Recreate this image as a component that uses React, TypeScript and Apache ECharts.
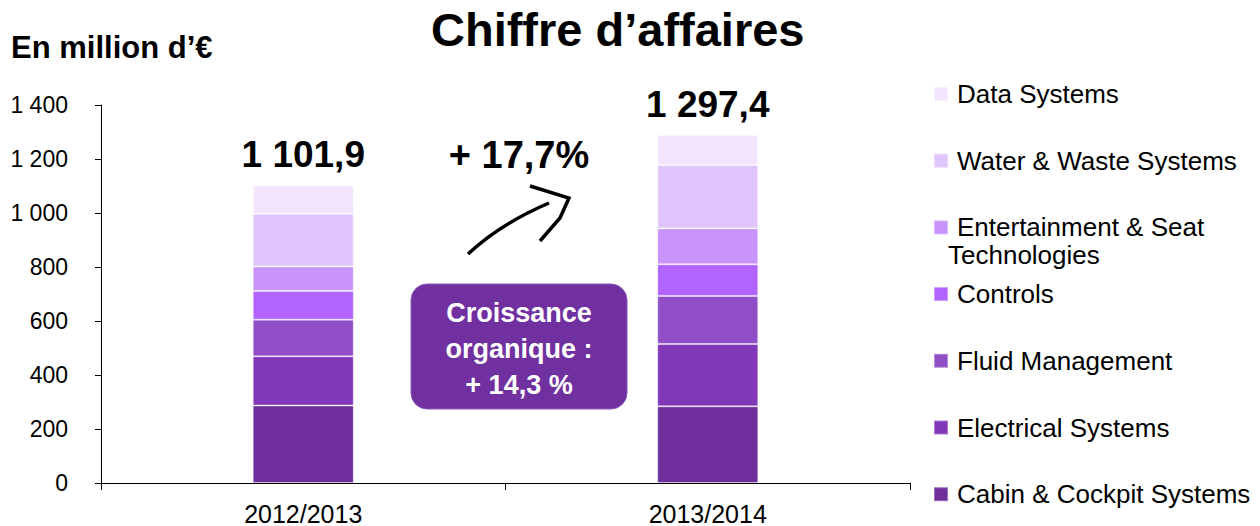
import React, { useEffect, useRef } from "react";
import * as echarts from "echarts";

const categories = ["2012/2013", "2013/2014"];
const cabinCockpit = [287, 284];
const electrical = [182, 231];
const fluid = [136, 178];
const controls = [106, 117];
const entertainment = [91, 133];
const waterWaste = [195, 235];
const dataSystems = [105, 111];
const totals = [1101.9, 1297.4];
const yTicks = { min: 0, max: 1400, interval: 200 };

const seriesNames = [
  "Cabin & Cockpit Systems",
  "Electrical Systems",
  "Fluid Management",
  "Controls",
  "Entertainment & Seat Technologies",
  "Water & Waste Systems",
  "Data Systems",
];
const seriesValues = [cabinCockpit, electrical, fluid, controls, entertainment, waterWaste, dataSystems];
const colors = ["#6E2F9C", "#8037B8", "#914FC7", "#B164FE", "#C993FC", "#E0C5FC", "#F3E5FD"];

const growthText = "+ 17,7%";
const organicText = "Croissance\norganique :\n+ 14,3 %";

const FONT = "'Liberation Sans', Arial, sans-serif";

function frNum(v: number, decimals = 0): string {
  const fixed = v.toFixed(decimals);
  const [intPart, dec] = fixed.split(".");
  const grouped = intPart.replace(/\B(?=(\d{3})+(?!\d))/g, " ");
  return dec ? grouped + "," + dec : grouped;
}

export default function App() {
  const ref = useRef<HTMLDivElement>(null);
  useEffect(() => {
    if (!ref.current) return;
    document.body.style.margin = "0";
    const chart = echarts.init(ref.current, null, { renderer: "svg" });
    const series = seriesNames.map((name, i) => ({
      name,
      type: "bar",
      stack: "total",
      barWidth: 101,
      data: seriesValues[i],
      itemStyle: { color: colors[i], borderColor: "rgba(255,255,255,0.35)", borderWidth: 1 },
      label:
        i === seriesNames.length - 1
          ? {
              show: true,
              position: "top",
              distance: 12,
              formatter: (p: any) => frNum(totals[p.dataIndex], 1),
              fontFamily: FONT,
              fontSize: 37,
              fontWeight: "bold",
              color: "#000",
            }
          : { show: false },
    }));
    chart.setOption({
      animation: false,
      textStyle: { fontFamily: FONT },
      title: [
        {
          text: "Chiffre d’affaires",
          left: 426,
          top: 1,
          textStyle: { fontFamily: FONT, fontSize: 47, fontWeight: "bold", color: "#000" },
        },
        {
          text: "En million d’€",
          left: 6,
          top: 27,
          textStyle: { fontFamily: FONT, fontSize: 31, fontWeight: "bold", color: "#000" },
        },
      ],
      legend: {
        orient: "vertical",
        left: 928,
        top: 74,
        itemWidth: 14,
        itemHeight: 14,
        itemGap: 36.7,
        icon: "rect",
        data: [...seriesNames].reverse(),
        formatter: (name: string) => (name === "Entertainment & Seat Technologies" ? "Entertainment & Seat" : name),
        textStyle: { fontFamily: FONT, fontSize: 26, lineHeight: 30, color: "#000", padding: [0, 0, 0, 4] },
        selectedMode: false,
      },
      grid: { left: 101, right: 350, top: 105, bottom: 40, containLabel: false },
      xAxis: {
        type: "category",
        data: categories,
        axisLine: { lineStyle: { color: "#000", width: 1 } },
        axisTick: { show: true, length: 7, lineStyle: { color: "#000" } },
        axisLabel: { fontFamily: FONT, fontSize: 25, color: "#000", margin: 18 },
      },
      yAxis: {
        type: "value",
        min: yTicks.min,
        max: yTicks.max,
        interval: yTicks.interval,
        splitLine: { show: false },
        axisLine: { show: true, lineStyle: { color: "#000", width: 1 } },
        axisTick: { show: true, length: 6, lineStyle: { color: "#000" } },
        axisLabel: {
          fontFamily: FONT,
          fontSize: 23,
          color: "#000",
          margin: 33,
          formatter: (v: number) => frNum(v),
        },
      },
      series,
      graphic: [
        {
          type: "text",
          left: 948,
          top: 242,
          style: { text: "Technologies", fontFamily: FONT, fontSize: 26, fill: "#000" },
        },
        {
          type: "text",
          x: 519,
          y: 155,
          style: {
            text: growthText,
            fontFamily: FONT,
            fontSize: 38,
            fontWeight: "bold",
            fill: "#000",
            align: "center",
            verticalAlign: "middle",
          },
        },
        {
          type: "bezierCurve",
          shape: { x1: 468, y1: 254, cpx1: 500, cpy1: 224, x2: 549, y2: 203 },
          style: { stroke: "#000", lineWidth: 3.5, fill: "none" },
        },
        {
          type: "polyline",
          shape: { points: [[530, 186], [569, 198], [560, 218], [540, 241]] },
          style: { stroke: "#000", lineWidth: 3.5, fill: "none" },
        },
        {
          type: "rect",
          shape: { x: 411, y: 284, width: 216, height: 125, r: 16 },
          style: { fill: "#7030A0", stroke: "#8A55B8", lineWidth: 1 },
        },
        {
          type: "text",
          x: 519,
          y: 349,
          style: {
            text: organicText,
            fontFamily: FONT,
            fontSize: 27,
            fontWeight: "bold",
            lineHeight: 36,
            fill: "#fff",
            align: "center",
            verticalAlign: "middle",
          },
        },
      ],
    });
    return () => chart.dispose();
  }, []);
  return <div ref={ref} style={{ width: 1260, height: 526 }} />;
}
